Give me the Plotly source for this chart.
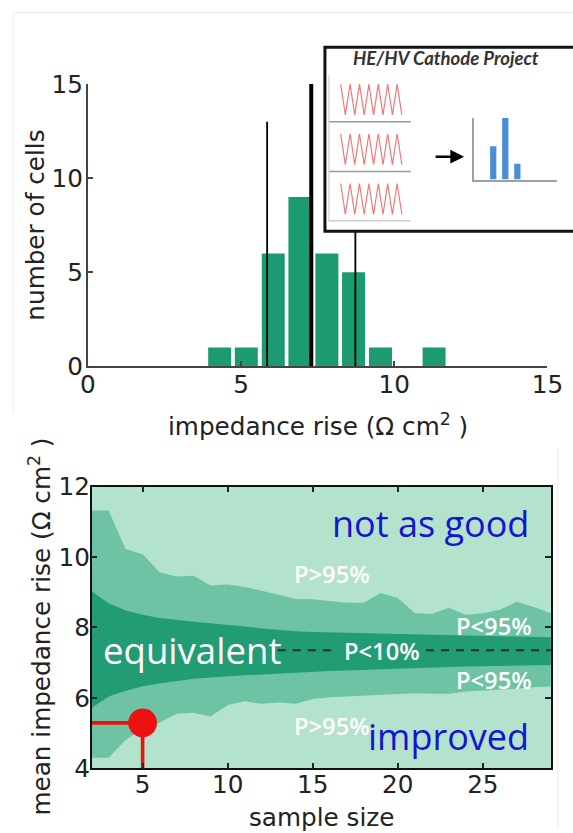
import plotly.graph_objects as go

# ---- histogram of impedance rise for the baseline cells ----
bin_centers = [4.30, 5.17, 6.05, 6.92, 7.80, 8.67, 9.55, 10.42, 11.30]
cell_counts = [1, 1, 6, 9, 6, 5, 1, 0, 1]
ref_lines_x = [5.85, 7.29, 8.73]      # mean - sd, mean, mean + sd
ref_lines_h = [13, 15, 13]
ref_lines_w = [1.8, 4.0, 1.8]

# ---- probability bands of the mean vs. sample size ----
sample_size = list(range(2, 30))
upper95 = [11.32, 11.32, 10.23, 10.08, 9.57, 9.45, 9.47, 9.19, 9.22, 9.15, 9.04, 8.92, 8.81, 8.80,
           8.76, 8.70, 8.70, 8.98, 8.84, 8.41, 8.38, 8.56, 8.36, 8.40, 8.50, 8.73, 8.58, 8.40]
upper10 = [9.03, 8.69, 8.48, 8.36, 8.27, 8.21, 8.16, 8.12, 8.08, 8.03, 7.97, 7.92, 7.89, 7.87,
           7.86, 7.84, 7.83, 7.82, 7.80, 7.79, 7.78, 7.77, 7.76, 7.75, 7.74, 7.73, 7.72, 7.72]
lower10 = [5.71, 6.04, 6.20, 6.33, 6.41, 6.48, 6.54, 6.58, 6.62, 6.64, 6.66, 6.69, 6.71, 6.74,
           6.76, 6.78, 6.80, 6.82, 6.84, 6.86, 6.87, 6.88, 6.89, 6.90, 6.91, 6.92, 6.93, 6.93]
lower95 = [4.30, 4.30, 4.80, 5.12, 5.29, 5.55, 5.58, 5.47, 5.80, 5.90, 5.83, 5.87, 5.83, 5.97,
           6.02, 6.04, 6.06, 6.10, 6.12, 6.13, 6.12, 6.12, 6.18, 6.20, 6.22, 6.26, 6.30, 6.32]
mean_rise = 7.35
dash_segments = [(12.94, 16.35), (21.66, 29.0)]
example_n = 5
example_mean = 5.29

# ---- inset sketch: cycling traces and a small histogram ----
cycle_voltage = [1, 0, 1, 0, 1, 0, 1, 0, 1, 0, 1, 0, 1, 0]
inset_counts = [2.1, 3.9, 1.0]

W, H = 573, 833
# page placement of the figure: offset and scale of the rendered canvas
OX, OY, S = 7.8, 13.5, 0.971
def px(x):
    return ((x - OX) / S) / W
def py(y):
    return 1 - ((y - OY) / S) / H
def fs(size):
    return round(size / S, 1)

LIGHT, MID, DARK = "#b3e2cd", "#6ec3a4", "#219c74"
BAR = "#1c9a72"
AX_FONT = dict(family="DejaVu Sans", size=fs(24), color="#222")
TXT = "Open Sans"

fig = go.Figure()

# histogram bars
fig.add_trace(go.Bar(x=bin_centers, y=cell_counts, width=0.75, marker=dict(color=BAR, line=dict(width=0)),
                     xaxis="x", yaxis="y"))
for xv, hv, wv in zip(ref_lines_x, ref_lines_h, ref_lines_w):
    fig.add_trace(go.Scatter(x=[xv, xv], y=[0, hv], mode="lines", line=dict(color="black", width=wv),
                             xaxis="x", yaxis="y"))

# bands
fig.add_trace(go.Scatter(x=sample_size, y=lower95, mode="lines", line=dict(width=0, color=MID),
                         xaxis="x2", yaxis="y2"))
fig.add_trace(go.Scatter(x=sample_size, y=upper95, mode="lines", line=dict(width=0, color=MID),
                         fill="tonexty", fillcolor=MID, xaxis="x2", yaxis="y2"))
fig.add_trace(go.Scatter(x=sample_size, y=lower10, mode="lines", line=dict(width=0, color=DARK),
                         xaxis="x2", yaxis="y2"))
fig.add_trace(go.Scatter(x=sample_size, y=upper10, mode="lines", line=dict(width=0, color=DARK),
                         fill="tonexty", fillcolor=DARK, xaxis="x2", yaxis="y2"))
dx, dy = [], []
for a, b in dash_segments:
    dx += [a, b, None]
    dy += [mean_rise, mean_rise, None]
fig.add_trace(go.Scatter(x=dx, y=dy, mode="lines", line=dict(color="#17332a", width=2, dash="8px,7px"),
                         xaxis="x2", yaxis="y2"))
X2_RANGE = [2, 29]
Y2_RANGE = [4, 12]
fig.add_trace(go.Scatter(x=[X2_RANGE[0], example_n, example_n], y=[example_mean, example_mean, Y2_RANGE[0]],
                         mode="lines", line=dict(color="#ee1111", width=3.6), xaxis="x2", yaxis="y2"))
fig.add_trace(go.Scatter(x=[example_n], y=[example_mean], mode="markers",
                         marker=dict(color="#ee1111", size=fs(28)), xaxis="x2", yaxis="y2", cliponaxis=False))

# inset: white panel
fig.add_trace(go.Scatter(x=[0, 1, 1, 0, 0], y=[0, 0, 1, 1, 0], mode="lines", fill="toself",
                         fillcolor="white", line=dict(width=0), xaxis="x3", yaxis="y3"))
# inset: cycling traces, one per row
t = list(range(len(cycle_voltage)))
for row in range(3):
    fig.add_trace(go.Scatter(x=t, y=[row + 0.14 + 0.62 * v for v in cycle_voltage], mode="lines",
                             line=dict(color="#f07a7a", width=1.2), xaxis="x5", yaxis="y5"))
# inset: small histogram
fig.add_trace(go.Bar(x=[1, 2, 3], y=inset_counts, width=0.52, marker=dict(color="#4a8fd6", line=dict(width=0)),
                     xaxis="x4", yaxis="y4"))

hidden = dict(visible=False, fixedrange=True)
fig.update_layout(
    width=W, height=H, margin=dict(l=0, r=0, t=0, b=0),
    paper_bgcolor="white", plot_bgcolor="rgba(0,0,0,0)", showlegend=False,
    xaxis=dict(domain=[px(88.8), px(554.5)], range=[0, 15], tickvals=[0, 5, 10, 15], anchor="y",
               ticks="inside", ticklen=5, tickwidth=1.5, tickcolor="#444", showline=True, linecolor="#444",
               linewidth=2, showgrid=False, zeroline=False, tickfont=AX_FONT, ticklabelstandoff=-5,
               ticklabeloverflow="allow"),
    yaxis=dict(domain=[py(368), py(84)], range=[0, 15], tickvals=[0, 5, 10, 15], anchor="x",
               ticks="inside", ticklen=5, tickwidth=1.5, tickcolor="#444", showline=True, linecolor="#444",
               linewidth=2, showgrid=False, zeroline=False, tickfont=AX_FONT, ticklabelstandoff=-2,
               ticklabeloverflow="allow"),
    xaxis2=dict(domain=[px(92.5), px(558)], range=X2_RANGE, tickvals=[5, 10, 15, 20, 25], anchor="y2",
                ticks="inside", ticklen=6, tickwidth=1.5, tickcolor="#222", showline=True, linecolor="#111",
                linewidth=1.5, mirror="ticks", showgrid=False, zeroline=False, tickfont=AX_FONT,
                ticklabelstandoff=-7, ticklabeloverflow="allow"),
    yaxis2=dict(domain=[py(772.3), py(489)], range=Y2_RANGE, tickvals=[4, 6, 8, 10, 12], anchor="x2",
                ticks="inside", ticklen=6, tickwidth=1.5, tickcolor="#222", showline=True, linecolor="#111",
                linewidth=1.5, mirror="ticks", showgrid=False, zeroline=False, tickfont=AX_FONT,
                ticklabelstandoff=-5, ticklabeloverflow="allow"),
    xaxis3=dict(domain=[px(329), 1.0], range=[0, 1], anchor="y3", **hidden),
    yaxis3=dict(domain=[py(232), py(47)], range=[0, 1], anchor="x3", **hidden),
    xaxis4=dict(domain=[px(480), 1.0], range=[-0.6, 6.29], anchor="y4", showline=True, linecolor="#a0a0a0",
                linewidth=1.5, showticklabels=False, ticks="", showgrid=False, zeroline=False),
    yaxis4=dict(domain=[py(180), py(118)], range=[0, 3.9], anchor="x4", showline=True, linecolor="#a0a0a0",
                linewidth=1.5, showticklabels=False, ticks="", showgrid=False, zeroline=False),
    xaxis5=dict(domain=[px(333), px(416)], range=[-2.5, 14.9], anchor="y5", **hidden),
    yaxis5=dict(domain=[py(222), py(72)], range=[0, 3], anchor="x5", **hidden),
)

shapes = [
    # light background band of the lower panel
    dict(type="rect", xref="x2 domain", yref="y2 domain", x0=0, x1=1, y0=0, y1=1, fillcolor=LIGHT,
         line=dict(width=0), layer="below"),
    # inset frame (runs off the right edge)
    dict(type="path", xref="paper", yref="paper",
         path=f"M 1.08,{py(47)} L {px(329)},{py(47)} L {px(329)},{py(232)} L 1.08,{py(232)}",
         line=dict(color="#111", width=3), layer="above"),
    # inset row separators and left edge
    dict(type="line", xref="x5 domain", yref="y5", x0=0, x1=1, y0=0, y1=0, line=dict(color="#9a9a9a", width=1.5)),
    dict(type="line", xref="x5 domain", yref="y5", x0=0, x1=1, y0=1, y1=1, line=dict(color="#9a9a9a", width=1.5)),
    dict(type="line", xref="x5 domain", yref="y5", x0=0, x1=1, y0=2, y1=2, line=dict(color="#9a9a9a", width=1.5)),
    dict(type="line", xref="x5 domain", yref="y5", x0=0, x1=0, y0=0, y1=2.94, line=dict(color="#c8c8c8", width=1)),
    # faint panel outlines
    dict(type="line", xref="paper", yref="paper", x0=px(13), x1=1.05, y0=py(12), y1=py(12),
         line=dict(color="#ececec", width=1)),
    dict(type="line", xref="paper", yref="paper", x0=px(13), x1=px(13), y0=py(12), y1=py(415),
         line=dict(color="#ececec", width=1)),
    dict(type="line", xref="paper", yref="paper", x0=px(565), x1=px(565), y0=py(450), y1=py(833),
         line=dict(color="#ececec", width=1)),
]
fig.update_layout(shapes=shapes)

ann = []
def a(**kw):
    ann.append(dict(showarrow=False, **kw))

# axis titles
a(text="impedance rise (Ω cm<sup>2</sup> )", xref="paper", yref="paper", x=px(321.6), y=py(426.7),
  xanchor="center", yanchor="middle", font=AX_FONT)
a(text="number of cells", xref="paper", yref="paper", x=px(35.6), y=py(226), textangle=-90,
  xanchor="center", yanchor="middle", font=AX_FONT)
a(text="mean impedance rise (Ω cm<sup>2</sup> )", xref="paper", yref="paper", x=px(40), y=py(630),
  textangle=-90, xanchor="center", yanchor="middle", font=AX_FONT)
a(text="sample size", xref="paper", yref="paper", x=px(326), y=py(821.7),
  xanchor="center", yanchor="middle", font=AX_FONT)

# region labels
BLUE = "#1515d0"
a(text="not as good", xref="x2", yref="y2", x=27.85, y=10.95, xanchor="right", yanchor="middle",
  font=dict(family=TXT, size=fs(35), color=BLUE))
a(text="improved", xref="x2", yref="y2", x=27.85, y=4.89, xanchor="right", yanchor="middle",
  font=dict(family=TXT, size=fs(35), color=BLUE))
a(text="equivalent", xref="x2", yref="y2", x=2.53, y=7.36, xanchor="left", yanchor="middle",
  font=dict(family=TXT, size=fs(35.5), color="white"))
PF = dict(family=TXT, size=fs(23), color="white", weight=600)
a(text="P>95%", xref="x2", yref="y2", x=16.12, y=9.52, xanchor="center", yanchor="middle", font=PF)
a(text="P>95%", xref="x2", yref="y2", x=16.12, y=5.21, xanchor="center", yanchor="middle", font=PF)
a(text="P<95%", xref="x2", yref="y2", x=25.68, y=8.04, xanchor="center", yanchor="middle", font=PF)
a(text="P<95%", xref="x2", yref="y2", x=25.68, y=6.51, xanchor="center", yanchor="middle", font=PF)
a(text="P<10%", xref="x2", yref="y2", x=19.1, y=7.33, xanchor="center", yanchor="middle", font=PF)

# inset title and arrow
a(text="<b><i>HE/HV Cathode Project</i></b>", xref="paper", yref="paper", x=px(452), y=py(58),
  xanchor="center", yanchor="middle", font=dict(family="Lato", size=fs(18), color="#333"))
ann.append(dict(x=px(470), y=py(157), ax=-30, ay=0, xref="paper", yref="paper",
                showarrow=True, arrowhead=2, arrowsize=1.1,
                arrowwidth=2.5, arrowcolor="black", text=""))
fig.update_layout(annotations=ann)

fig.write_html("out.html")
